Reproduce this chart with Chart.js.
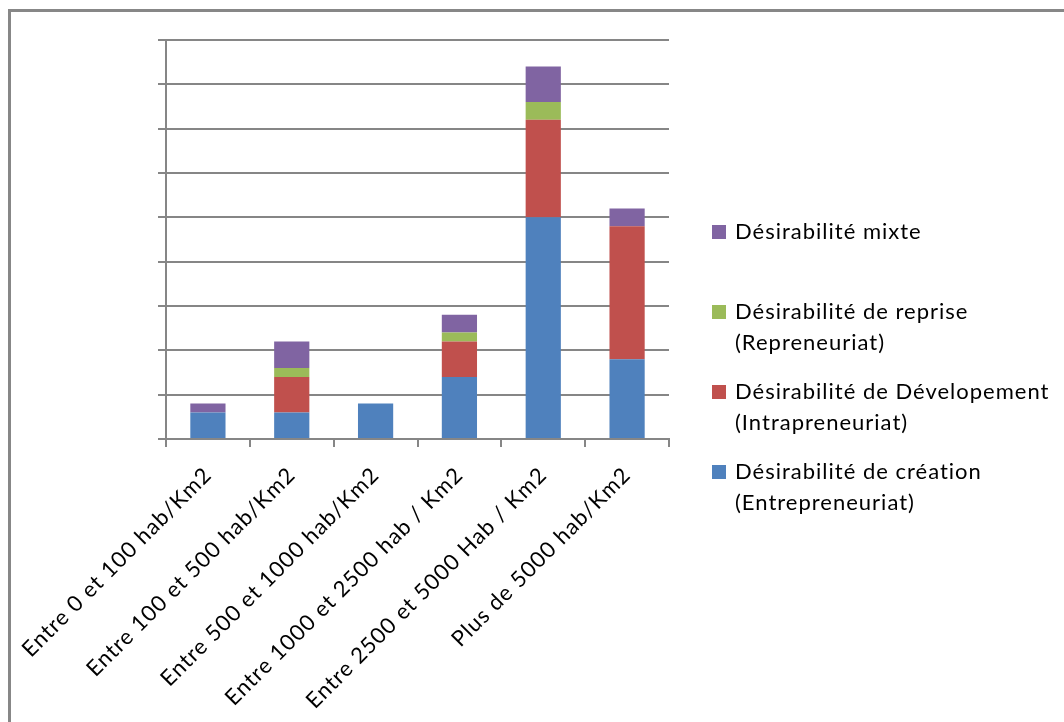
<!DOCTYPE html>
<html>
<head>
<meta charset="utf-8">
<script src="https://cdn.jsdelivr.net/npm/chart.js@4/dist/chart.umd.min.js"></script>
<style>
  html, body { margin: 0; padding: 0; background: #fff; overflow: hidden; }
  #frame { position: absolute; left: 8px; top: 9px; width: 1200px; height: 900px; border: 3px solid #878787; box-sizing: border-box; }
  #chart1 { position: absolute; left: 0; top: 0; }
</style>
</head>
<body>
<div id="frame"></div>
<canvas id="chart1" width="1064" height="722"></canvas>
<script>
var categories = ['Entre 0 et 100 hab/Km2', 'Entre 100 et 500 hab/Km2', 'Entre 500 et 1000 hab/Km2',
                  'Entre 1000 et 2500 hab / Km2', 'Entre 2500 et 5000 Hab / Km2', 'Plus de 5000 hab/Km2'];

var creation      = [3, 3, 4, 7, 25, 9];
var developpement = [0, 4, 0, 4, 11, 15];
var reprise       = [0, 1, 0, 1, 2, 0];
var mixte         = [1, 3, 0, 2, 4, 2];

var yTicks = [0, 5, 10, 15, 20, 25, 30, 35, 40, 45];

var legendLines = [
    ['Désirabilité de création', '(Entrepreneuriat)'],
    ['Désirabilité de Dévelopement', '(Intrapreneuriat)'],
    ['Désirabilité de reprise', '(Repreneuriat)'],
    ['Désirabilité mixte']
];

var fontFamily = 'Lato, "Open Sans", sans-serif';
var fontSize = 22;
var gridColor = '#868686';

// the original text is spaced a bit wider, canvas letterSpacing gets reset on resize so set it each update
var spacing = {
    id: 'spacing',
    beforeUpdate: function (chart) { chart.ctx.letterSpacing = '1px'; },
    beforeDraw: function (chart) { chart.ctx.letterSpacing = '1px'; }
};

// legend drawn by hand: Chart.js legend can't do the two-line labels with this spacing
var sideLegend = {
    id: 'sideLegend',
    afterDraw: function (chart) {
        var ctx = chart.ctx;
        var ds = chart.data.datasets;
        ctx.save();
        ctx.font = fontSize + 'px ' + fontFamily;
        ctx.letterSpacing = '1px';
        ctx.textBaseline = 'middle';
        ctx.textAlign = 'left';
        var y = 232;
        for (var i = ds.length - 1; i >= 0; i--) {
            ctx.fillStyle = ds[i].backgroundColor;
            ctx.fillRect(712, y - 7, 14, 14);
            ctx.fillStyle = '#000';
            var lines = legendLines[i];
            for (var j = 0; j < lines.length; j++) {
                ctx.fillText(lines[j], 735, y + j * 31);
            }
            y += 80;
        }
        ctx.restore();
    }
};

var chartData = {
    labels: categories,
    datasets: [
        { label: legendLines[0].join(' '), data: creation, backgroundColor: '#4F81BD' },
        { label: legendLines[1].join(' '), data: developpement, backgroundColor: '#C0504D' },
        { label: legendLines[2].join(' '), data: reprise, backgroundColor: '#9BBB59' },
        { label: legendLines[3].join(' '), data: mixte, backgroundColor: '#8064A2' }
    ]
};

var ctx = document.getElementById('chart1').getContext('2d');
var myChart1 = new Chart(ctx, {
    type: 'bar',
    data: chartData,
    plugins: [spacing, sideLegend],
    options: {
        responsive: false,
        animation: false,
        devicePixelRatio: 1,
        layout: { padding: { left: 0, top: 40, right: 395, bottom: 0 } },
        datasets: { bar: { categoryPercentage: 1, barPercentage: 0.42 } },
        plugins: {
            legend: { display: false },
            tooltip: { enabled: false }
        },
        scales: {
            x: {
                stacked: true,
                afterFit: function (s) {
                    s.height = 283;
                    s.paddingLeft = 0;
                    s.paddingRight = 0;
                },
                grid: { drawOnChartArea: false, drawTicks: true, tickLength: 8, color: gridColor, lineWidth: 2 },
                border: { color: gridColor, width: 2 },
                ticks: {
                    autoSkip: false, minRotation: 45, maxRotation: 45,
                    color: '#000', padding: 15,
                    font: { family: fontFamily, size: fontSize }
                }
            },
            y: {
                stacked: true,
                min: yTicks[0],
                max: yTicks[yTicks.length - 1],
                afterFit: function (s) { s.width = 166; },
                afterBuildTicks: function (s) { s.ticks = yTicks.map(function (v) { return { value: v }; }); },
                grid: { color: gridColor, lineWidth: 2, tickLength: 8 },
                border: { color: gridColor, width: 2 },
                ticks: { display: false }
            }
        }
    }
});
</script>
</body>
</html>
